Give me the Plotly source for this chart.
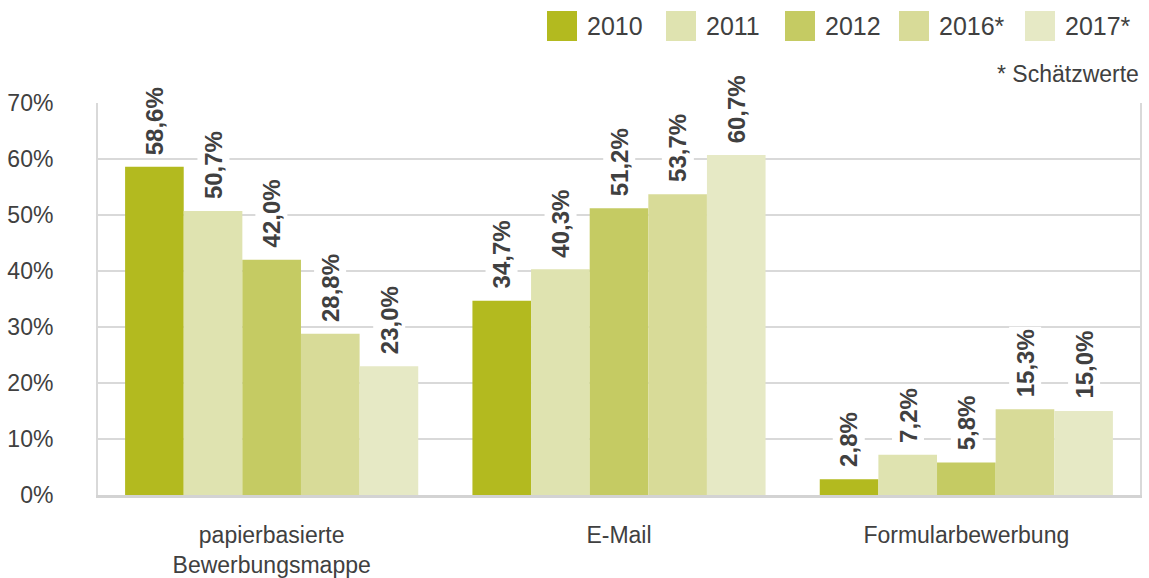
import plotly.graph_objects as go

categories = ["papierbasierte<br>Bewerbungsmappe", "E-Mail", "Formularbewerbung"]
series_names = ["2010", "2011", "2012", "2016*", "2017*"]
values_2010 = [58.6, 34.7, 2.8]
values_2011 = [50.7, 40.3, 7.2]
values_2012 = [42.0, 51.2, 5.8]
values_2016 = [28.8, 53.7, 15.3]
values_2017 = [23.0, 60.7, 15.0]
y_tick_vals = [0, 10, 20, 30, 40, 50, 60, 70]
y_tick_text = ["0%", "10%", "20%", "30%", "40%", "50%", "60%", "70%"]
footnote = "* Schätzwerte"

series_values = [values_2010, values_2011, values_2012, values_2016, values_2017]
colors = ["#b3ba1f", "#dfe3b0", "#c5cb63", "#d8db98", "#e6e9c5"]

W, H = 1149, 578
L, R, T, B = 98, 9, 103, 83
PW, PH = W - L - R, H - T - B
BARGAP = 0.156
TXT = "#404040"
FONT = "Liberation Sans, Arial, sans-serif"


def px_x(px):
    return (px - L) / PW


def px_y(py):
    return (H - B - py) / PH


x_idx = list(range(len(categories)))
fig = go.Figure()
for name, vals, col in zip(series_names, series_values, colors):
    fig.add_trace(go.Bar(x=x_idx, y=vals, name=name, marker=dict(color=col, line=dict(width=0)),
                         showlegend=False, hoverinfo="skip"))

n = len(series_names)
bw = (1 - BARGAP) / n
annotations = []
for j, vals in enumerate(series_values):
    for i, v in enumerate(vals):
        annotations.append(dict(
            x=i + (j - (n - 1) / 2) * bw, y=v, xref="x", yref="y",
            text="<b>" + f"{v:.1f}".replace(".", ",") + "%</b>",
            textangle=-90, showarrow=False, xanchor="center", yanchor="bottom",
            yshift=9, bgcolor="white", borderpad=2,
            font=dict(family=FONT, size=24, color=TXT)))

# custom legend
legend_left_px = [547, 666, 785, 899, 1025]
shapes = []
for name, col, lx in zip(series_names, colors, legend_left_px):
    shapes.append(dict(type="rect", xref="paper", yref="paper",
                       x0=px_x(lx), x1=px_x(lx + 30), y0=px_y(41), y1=px_y(11),
                       fillcolor=col, line=dict(width=0)))
    annotations.append(dict(x=px_x(lx + 38), y=px_y(26), xref="paper", yref="paper",
                            text=name, showarrow=False, xanchor="left", yanchor="middle",
                            font=dict(family=FONT, size=25, color=TXT)))
annotations.append(dict(x=px_x(1141), y=px_y(74), xref="paper", yref="paper",
                        text=footnote, showarrow=False, xanchor="right", yanchor="middle",
                        font=dict(family=FONT, size=23, color=TXT)))

fig.update_layout(
    width=W, height=H,
    margin=dict(l=L, r=R, t=T, b=B, autoexpand=False),
    paper_bgcolor="white", plot_bgcolor="white",
    barmode="group", bargap=BARGAP, bargroupgap=0,
    showlegend=False, hovermode=False,
    annotations=annotations, shapes=shapes,
    font=dict(family=FONT, size=22, color=TXT),
)
fig.update_xaxes(
    tickvals=x_idx, ticktext=categories, range=[-0.5, len(categories) - 0.5],
    showgrid=False, zeroline=False, showline=True, linecolor="#d3d3d3", linewidth=3,
    ticks="", ticklabelstandoff=17, tickfont=dict(family=FONT, size=23, color=TXT),
    automargin=False,
)
fig.update_yaxes(
    range=[0, 70], tickvals=y_tick_vals, ticktext=y_tick_text,
    showgrid=True, gridcolor="#d9d9d9", gridwidth=2, zeroline=False,
    showline=True, linecolor="#d9d9d9", linewidth=2, mirror=True,
    ticks="", ticklabelstandoff=38, tickfont=dict(family=FONT, size=23, color=TXT),
    automargin=False,
)

fig.write_html("out.html", config={"displayModeBar": False},
               post_script="document.body.style.margin='0';document.body.style.overflow='hidden';")
